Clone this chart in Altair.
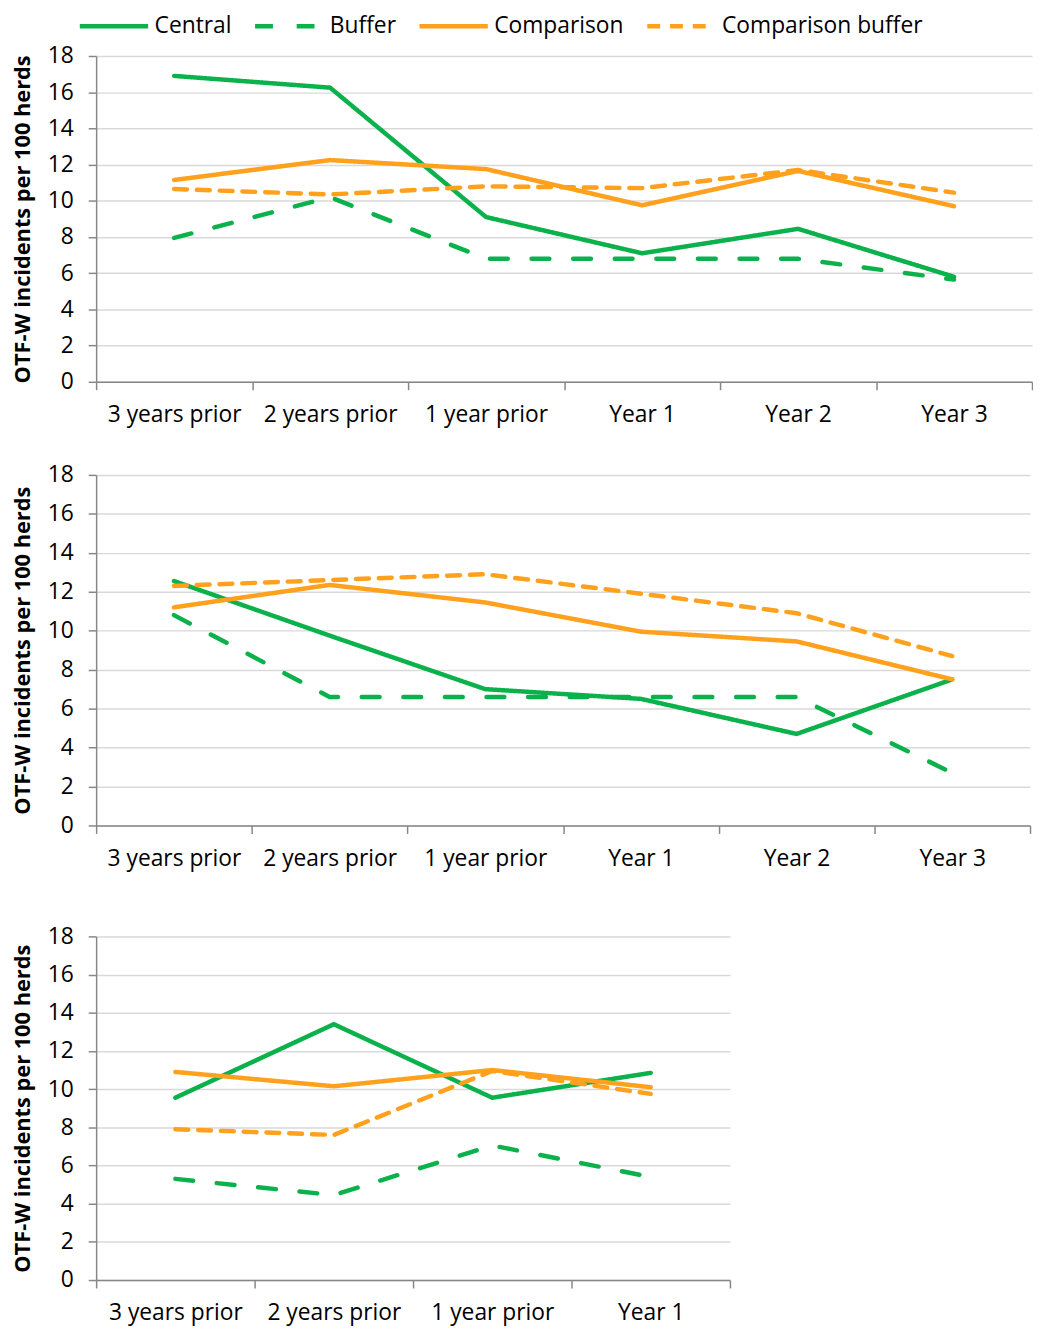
import altair as alt
import pandas as pd

periods6 = ["3 years prior", "2 years prior", "1 year prior", "Year 1", "Year 2", "Year 3"]
periods4 = ["3 years prior", "2 years prior", "1 year prior", "Year 1"]
series = ["Central", "Buffer", "Comparison", "Comparison buffer"]

# Panel 1
p1_central = [16.9, 16.25, 9.1, 7.1, 8.45, 5.8]
p1_buffer = [7.95, 10.2, 6.8, 6.8, 6.8, 5.65]
p1_comparison = [11.15, 12.25, 11.75, 9.75, 11.65, 9.7]
p1_comp_buffer = [10.65, 10.35, 10.8, 10.7, 11.7, 10.45]

# Panel 2
p2_central = [12.55, 9.75, 7.0, 6.5, 4.7, 7.5]
p2_buffer = [10.8, 6.6, 6.6, 6.6, 6.6, 2.7]
p2_comparison = [11.2, 12.35, 11.45, 9.95, 9.45, 7.5]
p2_comp_buffer = [12.3, 12.6, 12.9, 11.9, 10.9, 8.7]

# Panel 3
p3_central = [9.55, 13.4, 9.55, 10.85]
p3_buffer = [5.3, 4.45, 7.05, 5.4]
p3_comparison = [10.9, 10.15, 11.0, 10.1]
p3_comp_buffer = [7.9, 7.6, 10.95, 9.75]

GREEN = "#0BB14B"
ORANGE = "#FFA11C"
FONT = "Open Sans"


def make_df(periods, lists):
    rows = []
    for name, vals in zip(series, lists):
        for p, v in zip(periods, vals):
            rows.append({"period": p, "series": name, "value": v})
    return pd.DataFrame(rows)


color_scale = alt.Scale(domain=series, range=[GREEN, GREEN, ORANGE, ORANGE])
dash_scale = alt.Scale(domain=series, range=[[1, 0], [18, 24], [1, 0], [13, 10]])

legend = alt.Legend(
    title=None,
    orient="none",
    legendX=-19,
    legendY=-44,
    padding=0,
    direction="horizontal",
    symbolType="M-1,0H5",
    symbolSize=529,
    symbolStrokeWidth=4.5,
    labelFont=FONT,
    labelFontSize=23,
    labelColor="#000000",
    labelOffset=50,
    labelLimit=400,
    columnPadding=14,
)


def panel(periods, lists, width, height):
    df = make_df(periods, lists)
    return (
        alt.Chart(df)
        .mark_line(strokeWidth=4.5, strokeCap="round", strokeJoin="round")
        .encode(
            x=alt.X(
                "period:N",
                sort=periods,
                bandPosition=0.5,
                scale=alt.Scale(type="band", paddingInner=0, paddingOuter=0),
                axis=alt.Axis(
                    title=None,
                    labelAngle=0,
                    tickBand="extent",
                    tickSize=8,
                    labelPadding=14,
                    grid=False,
                ),
            ),
            y=alt.Y(
                "value:Q",
                scale=alt.Scale(domain=[0, 18], nice=False),
                axis=alt.Axis(
                    title="OTF-W incidents per 100 herds",
                    values=list(range(0, 19, 2)),
                    tickSize=8,
                    labelPadding=15,
                    titlePadding=13,
                    grid=True,
                ),
            ),
            color=alt.Color("series:N", scale=color_scale, legend=legend),
            strokeDash=alt.StrokeDash("series:N", scale=dash_scale, legend=legend),
            order=alt.Order("series:N"),
        )
        .properties(width=width, height=height)
    )


c1 = panel(periods6, [p1_central, p1_buffer, p1_comparison, p1_comp_buffer], 945, 329)
c2 = panel(periods6, [p2_central, p2_buffer, p2_comparison, p2_comp_buffer], 943, 354)
c3 = panel(periods4, [p3_central, p3_buffer, p3_comparison, p3_comp_buffer], 640, 347)

chart = (
    alt.vconcat(alt.vconcat(c1, c2, spacing=38), c3, spacing=56)
    .properties(padding={"left": 3, "top": -2, "right": 0, "bottom": 0})
    .configure_view(stroke=None)
    .configure_axis(
        labelFont=FONT,
        labelFontSize=23,
        labelColor="#000000",
        titleFont=FONT,
        titleFontSize=22,
        titleFontWeight="bold",
        titleColor="#000000",
        domainColor="#878787",
        domainWidth=1.5,
        tickColor="#878787",
        tickWidth=1.5,
        gridColor="#D9D9D9",
        gridWidth=1.5,
    )
)

chart.save("out.html", embed_options={"renderer": "svg", "actions": False})
